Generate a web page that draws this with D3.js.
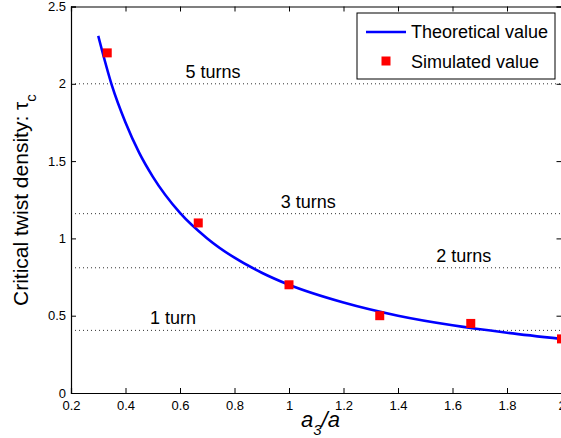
<!DOCTYPE html>
<html><head><meta charset="utf-8">
<script src="https://cdn.jsdelivr.net/npm/d3@7"></script>
<style>
body{margin:0;background:#fff;}
text{font-family:Arial,"Liberation Sans",sans-serif;}
</style></head>
<body><svg id="c" width="561" height="438"></svg>
<script>
// Theoretical curve
const theoX = [0.30,0.35,0.40,0.45,0.50,0.60,0.70,0.80,0.90,1.00,1.20,1.40,1.60,1.80,2.00];
const theoY = [2.31,1.99,1.75,1.555,1.40,1.165,1.00,0.875,0.778,0.70,0.585,0.50,0.438,0.39,0.35];
// Simulated values
const simX = [0.333,0.667,1.0,1.333,1.667,2.0];
const simY = [2.20,1.10,0.70,0.50,0.45,0.35];
// Reference lines (turns)
const turnLabels = ["1 turn","2 turns","3 turns","5 turns"];
const turnY = [0.405,0.81,1.16,2.0];
const turnLabelX = [0.49,1.54,0.97,0.62];
// Ticks
const xTicks = [0.2,0.4,0.6,0.8,1,1.2,1.4,1.6,1.8,2];
const yTicks = [0,0.5,1,1.5,2,2.5];
const legendLabels = ["Theoretical value","Simulated value"];

const svg = d3.select("#c");
const L=71, R=561.5, T=6.5, B=393;
const x = d3.scaleLinear().domain([0.2,2]).range([L,R]);
const y = d3.scaleLinear().domain([0,2.5]).range([B,T]);

// dotted reference lines
svg.selectAll("line.turn").data(turnY).enter().append("line")
  .attr("x1",L).attr("x2",R).attr("y1",d=>y(d)).attr("y2",d=>y(d))
  .attr("stroke","#333").attr("stroke-width",1).attr("stroke-dasharray","1,3");
svg.selectAll("text.turn").data(turnLabels).enter().append("text")
  .attr("x",(d,i)=>x(turnLabelX[i])).attr("y",(d,i)=>y(turnY[i])-6)
  .attr("font-size",18).attr("fill","#000").text(d=>d);

// axes
const gx = svg.append("g").attr("transform",`translate(0,${B})`)
  .call(d3.axisBottom(x).tickValues(xTicks).tickSize(-5).tickPadding(8).tickFormat(d3.format("~g")));
const gy = svg.append("g").attr("transform",`translate(${L},0)`)
  .call(d3.axisLeft(y).tickValues(yTicks).tickSize(-5).tickPadding(5).tickFormat(d3.format("~g")));
const gxt = svg.append("g").attr("transform",`translate(0,${T})`)
  .call(d3.axisTop(x).tickValues(xTicks).tickSize(-5).tickFormat(""));
const gyr = svg.append("g").attr("transform",`translate(${R},0)`)
  .call(d3.axisRight(y).tickValues(yTicks).tickSize(-5).tickFormat(""));
[gx,gy,gxt,gyr].forEach(g=>{
  g.select(".domain").attr("stroke","#000").attr("stroke-width",1.2);
  g.selectAll(".tick line").attr("stroke","#000");
  g.selectAll("text").attr("font-size",13).attr("fill","#000").attr("font-family","Arial, Liberation Sans, sans-serif");
});
gx.selectAll("text").attr("dy","0.71em");

// curve
const line = d3.line().x((d,i)=>x(theoX[i])).y((d,i)=>y(theoY[i])).curve(d3.curveMonotoneX);
svg.append("path").datum(theoY).attr("d",line).attr("fill","none")
  .attr("stroke","#0000ff").attr("stroke-width",2.6);

// simulated squares
const s=9;
svg.selectAll("rect.sim").data(simY).enter().append("rect")
  .attr("x",(d,i)=>x(simX[i])-s/2).attr("y",d=>y(d)-s/2)
  .attr("width",s).attr("height",s).attr("fill","#ff0000");

// legend
svg.append("rect").attr("x",357).attr("y",13).attr("width",198).attr("height",66)
  .attr("fill","#fff").attr("stroke","#000").attr("stroke-width",1);
svg.append("line").attr("x1",366).attr("x2",406).attr("y1",32).attr("y2",32)
  .attr("stroke","#0000ff").attr("stroke-width",2.6);
svg.append("rect").attr("x",386-s/2).attr("y",61-s/2).attr("width",s).attr("height",s).attr("fill","#ff0000");
svg.selectAll("text.leg").data(legendLabels).enter().append("text")
  .attr("x",411).attr("y",(d,i)=>i===0?38:68).attr("font-size",18).attr("fill","#000").text(d=>d);

// x label
const xl = svg.append("text").attr("x",301).attr("y",427).attr("font-size",22).attr("font-style","italic");
xl.append("tspan").text("a");
xl.append("tspan").attr("font-size",15).attr("dy",8).text("3");
xl.append("tspan").attr("dy",-8).text("/a");

// y label
const yl = svg.append("text").attr("transform","translate(28,306) rotate(-90)").attr("font-size",21);
yl.append("tspan").text("Critical twist density: τ");
yl.append("tspan").attr("font-size",15).attr("dy",8).text("c");
</script></body></html>
